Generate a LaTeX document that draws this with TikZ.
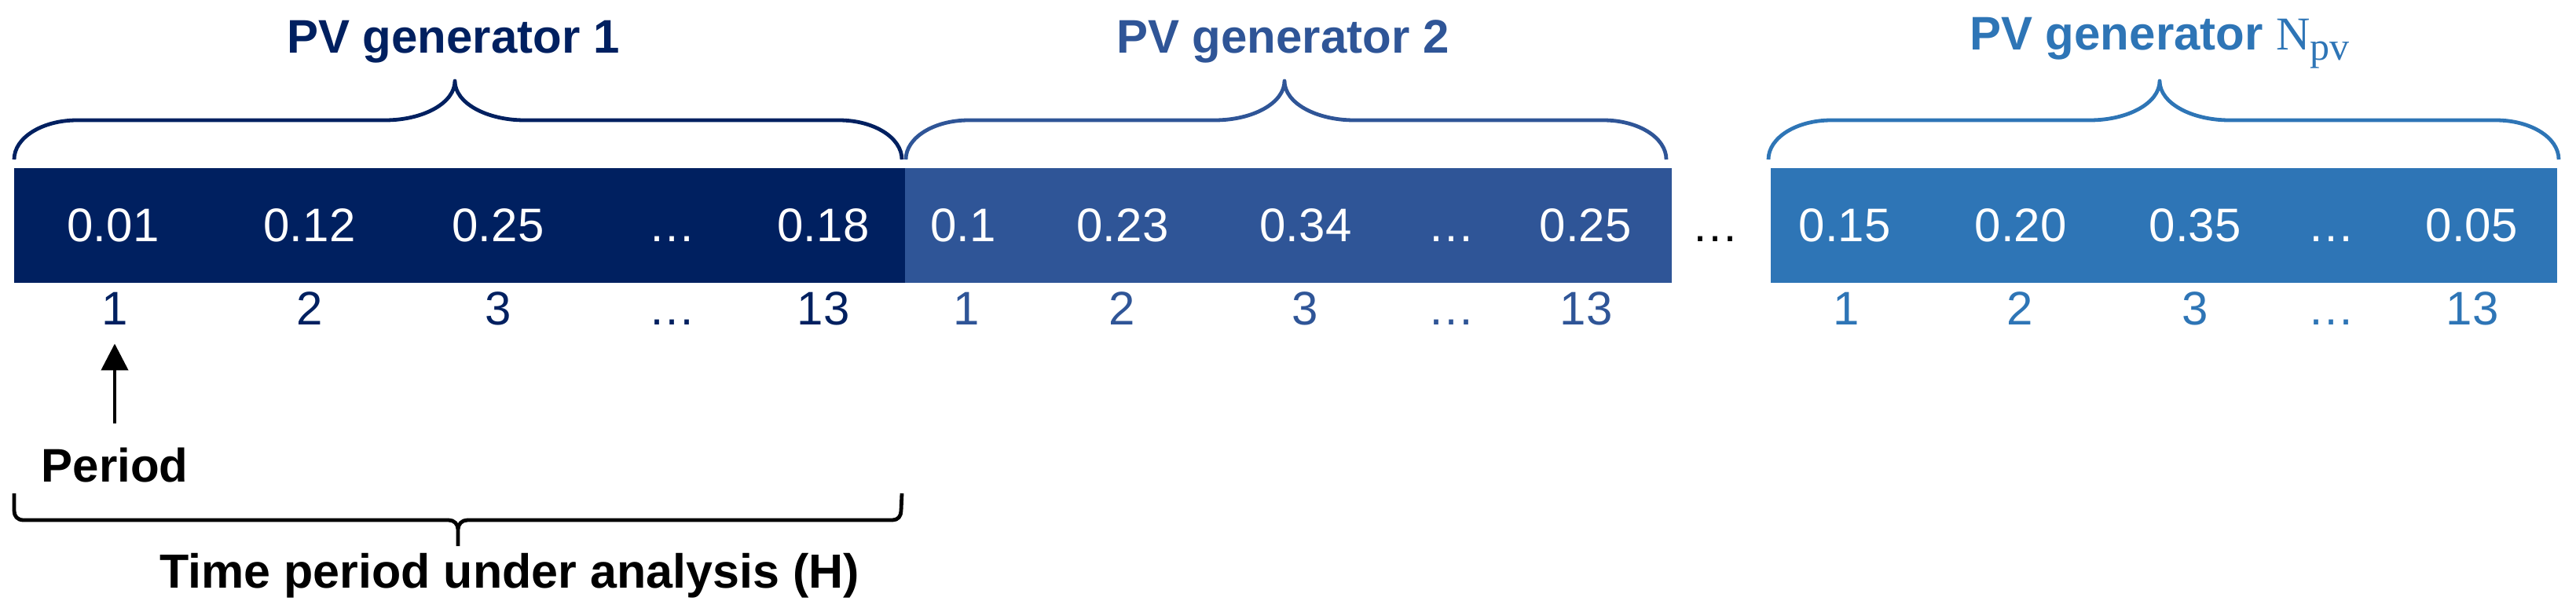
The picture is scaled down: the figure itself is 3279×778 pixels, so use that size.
\documentclass[tikz,border=0pt]{standalone}
\usepackage{fontspec}
\setmainfont{Liberation Sans}
\newfontfamily\npvfont{Liberation Serif}
\usetikzlibrary{arrows.meta}
\definecolor{gA}{RGB}{0,32,96}
\definecolor{gB}{RGB}{47,85,151}
\definecolor{gC}{RGB}{46,117,182}
\begin{document}
\begin{tikzpicture}[x=0.5pt,y=-0.5pt,
  barbox/.style={fill=#1, draw=none, inner sep=0pt, outer sep=0pt, anchor=north west},
  val/.style={text=white, font=\fontsize{30}{36}\selectfont, anchor=base, inner sep=0pt},
  idx/.style={text=#1, font=\fontsize{30}{36}\selectfont, anchor=base, inner sep=0pt},
  ttl/.style={text=#1, font=\bfseries\fontsize{30}{36}\selectfont, anchor=base, inner sep=0pt},
  bracepath/.style={draw=#1, line width=2.4pt, line cap=butt, line join=round},
  periodarrow/.style={draw=black, line width=2.2pt, -{Triangle[length=17pt,width=17pt]}},
]
\useasboundingbox (0,0) rectangle (3279,778);

% bars
\node[barbox=gA, minimum width=567pt, minimum height=73pt] (bar1) at (18,214) {};
\node[barbox=gB, minimum width=488pt, minimum height=73pt] (bar2) at (1152,214) {};
\node[barbox=gC, minimum width=500.5pt, minimum height=73pt] (bar3) at (2254,214) {};

% values generator 1
\node[val] (v11) at (144,307) {0.01};
\node[val] (v12) at (394,307) {0.12};
\node[val] (v13) at (634,307) {0.25};
\node[val] (v14) at (855,307) {…};
\node[val] (v15) at (1048,307) {0.18};
% values generator 2
\node[val] (v21) at (1226,307) {0.1};
\node[val] (v22) at (1429,307) {0.23};
\node[val] (v23) at (1662,307) {0.34};
\node[val] (v24) at (1847,307) {…};
\node[val] (v25) at (2018,307) {0.25};
% values generator Npv
\node[val] (v31) at (2348,307) {0.15};
\node[val] (v32) at (2572,307) {0.20};
\node[val] (v33) at (2794,307) {0.35};
\node[val] (v34) at (2967,307) {…};
\node[val] (v35) at (3146,307) {0.05};

% ellipsis between bars
\node[idx=black] (gap) at (2183,307) {…};

% indices
\node[idx=gA] (n11) at (146,413) {1};
\node[idx=gA] (n12) at (394,413) {2};
\node[idx=gA] (n13) at (634,413) {3};
\node[idx=gA] (n14) at (855,413) {…};
\node[idx=gA] (n15) at (1048,413) {13};
\node[idx=gB] (n21) at (1230,413) {1};
\node[idx=gB] (n22) at (1428,413) {2};
\node[idx=gB] (n23) at (1661,413) {3};
\node[idx=gB] (n24) at (1847,413) {…};
\node[idx=gB] (n25) at (2019,413) {13};
\node[idx=gC] (n31) at (2350,413) {1};
\node[idx=gC] (n32) at (2571,413) {2};
\node[idx=gC] (n33) at (2794,413) {3};
\node[idx=gC] (n34) at (2967,413) {…};
\node[idx=gC] (n35) at (3147,413) {13};

% titles
\node[ttl=gA] (t1) at (577,67) {PV generator 1};
\node[ttl=gB] (t2) at (1633,67) {PV generator 2};
\node[ttl=gC] (t3) at (2749,63) {PV generator {\mdseries\npvfont N\raisebox{-6.5pt}{\fontsize{25}{30}\selectfont pv}}};

% top braces
\draw[bracepath=gA] (18,203) .. controls (18,175) and (54,153) .. (98,153)
  -- (490,153) .. controls (539,153) and (579,131) .. (579,103)
  .. controls (579,131) and (619,153) .. (668,153)
  -- (1068,153) .. controls (1112,153) and (1148,175) .. (1148,203);
\draw[bracepath=gB] (1153,203) .. controls (1153,175) and (1189,153) .. (1233,153)
  -- (1546,153) .. controls (1595,153) and (1635,131) .. (1635,103)
  .. controls (1635,131) and (1675,153) .. (1724,153)
  -- (2041,153) .. controls (2085,153) and (2121,175) .. (2121,203);
\draw[bracepath=gC] (2251,203) .. controls (2251,175) and (2287,153) .. (2331,153)
  -- (2660,153) .. controls (2709,153) and (2749,131) .. (2749,103)
  .. controls (2749,131) and (2789,153) .. (2838,153)
  -- (3177,153) .. controls (3221,153) and (3257,175) .. (3257,203);

% period label and arrow
\node[ttl=black] (period) at (146,613) {Period};
\draw[periodarrow, shorten <=15pt, shorten >=12pt] (period.north) -- (period.north |- n11.south);

% bottom brace
\draw[bracepath=black] (18,628) -- (18,650) .. controls (18,657) and (22,662) .. (30,662)
  -- (571,662) .. controls (578,662) and (583,667) .. (583,674) -- (583,695)
  (583,674) .. controls (583,667) and (588,662) .. (595,662)
  -- (1136,662) .. controls (1143,662) and (1147,657) .. (1147,650) -- (1148,628);
\node[ttl=black, font=\bfseries\fontsize{30.5}{36}\selectfont, anchor=base west] (horizon) at (203,748) {Time period under analysis (H)};
\end{tikzpicture}
\end{document}
